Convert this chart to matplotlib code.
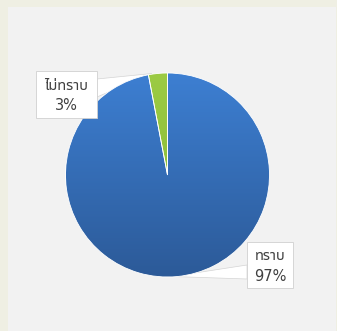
import matplotlib
matplotlib.use('Agg')
import matplotlib.pyplot as plt
import numpy as np
from matplotlib.colors import LinearSegmentedColormap
from matplotlib.patches import Rectangle, Polygon

labels = ['ทราบ', 'ไม่ทราบ']
values = [97, 3]
pct_text = ['97%', '3%']
top_colors = ['#3d7fd2', '#9ccb44']
bot_colors = ['#2c5a98', '#82b632']

W, H = 337, 331
fig = plt.figure(figsize=(W/100, H/100), dpi=100)
fig.patch.set_facecolor('#efefe3')
fig.add_artist(Rectangle((8/W, 0), (W-9)/W, (H-7)/H, transform=fig.transFigure,
                         facecolor='#f2f2f2', edgecolor='none', zorder=0))

cx, cy, R = 167.5, 175.0, 102.0
ax = fig.add_axes([0, 0, 1, 1])
ax.set_xlim(-cx/R, (W-cx)/R)
ax.set_ylim(-(H-cy)/R, cy/R)
ax.axis('off')
ax.patch.set_alpha(0)

def px(x, y):
    return ((x-cx)/R, (cy-y)/R)

ax.add_patch(Polygon([px(97, 79), px(152, 73.5), px(97, 97)], closed=True,
                     facecolor='white', edgecolor='#d4d4d4', lw=0.5, zorder=1))
ax.add_patch(Polygon([px(247, 265), px(172, 276.5), px(247, 279)], closed=True,
                     facecolor='white', edgecolor='#d4d4d4', lw=0.5, zorder=1))

wedges, _ = ax.pie(values, startangle=90, counterclock=False, radius=1.0,
                   colors=top_colors,
                   wedgeprops=dict(edgecolor='white', linewidth=0.6))
for w in wedges:
    w.set_zorder(2)

yy = np.linspace(1, 0, 256).reshape(-1, 1)
for w, tc, bc in zip(wedges, top_colors, bot_colors):
    cmap = LinearSegmentedColormap.from_list('g', [bc, tc])
    im = ax.imshow(yy, cmap=cmap, extent=[-1, 1, -1, 1], aspect='auto',
                   zorder=3, interpolation='bilinear', vmin=0, vmax=1)
    im.set_clip_path(w)
for w in wedges:
    w.set_facecolor('none')
    w.set_zorder(4)
ax.set_xlim(-cx/R, (W-cx)/R)
ax.set_ylim(-(H-cy)/R, cy/R)

font = ['Noto Sans Thai UI', 'DejaVu Sans']
boxes = {'ไม่ทราบ': (36, 71, 97, 118), 'ทราบ': (247, 242, 293, 288)}
for lab, pct in zip(labels, pct_text):
    x0, y0, x1, y1 = boxes[lab]
    bx, by = px(x0, y1)
    ax.add_patch(Rectangle((bx, by), (x1-x0)/R, (y1-y0)/R, facecolor='white',
                           edgecolor='#d0d0d0', lw=0.6, zorder=5))
    tx, ty = px((x0+x1)/2, (y0+y1)/2 + 1)
    ax.text(tx, ty, lab + '\n' + pct, ha='center', va='center', fontsize=10.5,
            family=font, color='#404040', linespacing=1.5, zorder=6)

fig.savefig('out.png', dpi=100, facecolor=fig.get_facecolor())
